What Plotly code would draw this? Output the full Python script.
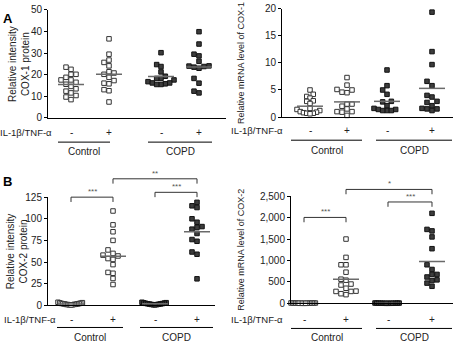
import plotly.graph_objects as go

W, H = 453, 347
FONT = "Liberation Sans, Arial, sans-serif"

GROUPS = ["Control", "COPD"]
TREAT = ["-", "+", "-", "+"]
STIM = "IL-1β/TNF-α"

# ---------- data ----------
# Panel A left: relative intensity COX-1 protein
A1_CTRL_MINUS = [23.5, 22.5, 20.2, 20.2, 18.8, 17.6, 17.6, 16.5, 15.6, 14.6, 13.5, 12.4, 11.6, 10.4, 9.7, 8.5]
A1_CTRL_PLUS = [36.6, 29.5, 26.8, 25.7, 24.1, 21.4, 20.8, 20.2, 18.8, 17.3, 16.1, 15.8, 13.1, 12.6, 7.4]
A1_COPD_MINUS = [30.2, 24.7, 23.8, 21.3, 19.3, 18.3, 18.3, 17.6, 16.8, 16.2, 16.2, 15.8, 15.5, 15.5]
A1_COPD_PLUS = [39.9, 34.2, 29.5, 28.7, 26.2, 24.1, 24.0, 23.8, 23.5, 23.0, 18.3, 16.1, 12.4, 11.6]
A1_CENTER = [15.5, 20.2, 19.2, 23.6]

# Panel A right: relative mRNA level of COX-1
A2_CTRL_MINUS = [5.0, 4.2, 3.8, 3.5, 3.0, 2.9, 2.5, 1.6, 1.4, 1.2, 1.0, 0.9, 0.8, 0.7, 0.7, 0.6]
A2_CTRL_PLUS = [7.3, 5.9, 5.1, 5.0, 4.6, 4.5, 2.4, 2.4, 2.0, 1.5, 1.0, 1.0, 0.9, 0.3]
A2_COPD_MINUS = [8.7, 5.8, 5.0, 4.2, 2.9, 2.8, 2.1, 1.6, 1.4, 1.4, 1.2, 1.2, 1.2]
A2_COPD_PLUS = [19.4, 12.1, 9.7, 6.6, 5.8, 4.0, 3.7, 2.9, 2.7, 2.1, 1.6, 1.5, 1.5, 1.2]
A2_CENTER = [2.0, 2.8, 2.9, 5.3]

# Panel B left: relative intensity COX-2 protein
B1_CTRL_MINUS = [3.5, 3.0, 2.8, 2.5, 2.2, 2.0, 1.8, 1.5, 1.5, 1.2, 1.0, 1.0, 0.8, 0.6, 0.5, 0.4]
B1_CTRL_PLUS = [109, 93, 85, 75, 64, 60, 58, 57, 54, 53, 47, 38, 37, 31, 24]
B1_COPD_MINUS = [3.5, 3.0, 2.8, 2.5, 2.2, 2.0, 1.8, 1.6, 1.4, 1.2, 1.0, 0.8, 0.6, 0.5]
B1_COPD_PLUS = [119, 115, 113, 100, 96, 91, 90, 88, 83, 76, 74, 61.6, 59, 30.6]
B1_CENTER = [1.5, 56.7, 1.8, 85]
B1_SIG = [("***", 0, 1), ("**", 1, 3), ("***", 2, 3)]

# Panel B right: relative mRNA level of COX-2
B2_CTRL_MINUS = [9, 8, 7, 6, 5, 5, 4, 4, 3, 3, 2, 2, 2, 1, 1, 1]
B2_CTRL_PLUS = [1500, 1072, 900, 900, 727, 563, 540, 450, 428, 352, 285, 278, 278, 225, 203]
B2_COPD_MINUS = [8, 7, 6, 5, 5, 4, 4, 3, 3, 2, 2, 2, 1, 1]
B2_COPD_PLUS = [2100, 1725, 1690, 1550, 1275, 900, 790, 675, 675, 615, 548, 532, 472, 398]
B2_CENTER = [3, 563, 3, 975]
B2_SIG = [("***", 0, 1), ("*", 1, 3), ("***", 2, 3)]

# ---------- layout (pixel geometry) ----------
PANELS = [
    dict(letter="A", letter_y=3, title="Relative intensity<br>COX-1 protein", title_x=19, title_size=10,
         series=[A1_CTRL_MINUS, A1_CTRL_PLUS, A1_COPD_MINUS, A1_COPD_PLUS], center=A1_CENTER,
         x0=48, x1=226, ytop=4, ybot=116, ymax=50, dtick=10, fmt="",
         pos=[71, 109, 161, 199], tick_y=131, stim_right=54, line_y=141,
         groups_x=[(58, 110), (148, 212)], group_label_y=151, sig=[], sig_y=[]),
    dict(letter=None, title="Relative mRNA level of COX-1", title_x=241, title_size=9,
         series=[A2_CTRL_MINUS, A2_CTRL_PLUS, A2_COPD_MINUS, A2_COPD_PLUS], center=A2_CENTER,
         x0=282, x1=453, ytop=3, ybot=115, ymax=20, dtick=5, fmt="",
         pos=[310, 347, 387, 432], tick_y=129, stim_right=285, line_y=139,
         groups_x=[(291, 362), (376, 452)], group_label_y=150, sig=[], sig_y=[]),
    dict(letter="B", letter_y=172, title="Relative intensity<br>COX-2 protein", title_x=17, title_size=10,
         series=[B1_CTRL_MINUS, B1_CTRL_PLUS, B1_COPD_MINUS, B1_COPD_PLUS], center=B1_CENTER,
         x0=48, x1=215, ytop=198, ybot=310, ymax=125, dtick=25, fmt="",
         pos=[71, 113, 155, 197], tick_y=325, stim_right=58, line_y=333,
         groups_x=[(57, 123), (140, 213)], group_label_y=343, sig=B1_SIG, sig_y=[198, 179, 193]),
    dict(letter=None, title="Relative mRNA level of COX-2", title_x=241, title_size=9,
         series=[B2_CTRL_MINUS, B2_CTRL_PLUS, B2_COPD_MINUS, B2_COPD_PLUS], center=B2_CENTER,
         x0=291, x1=453, ytop=197, ybot=308, ymax=2500, dtick=500, fmt=",d",
         pos=[304, 346, 388, 432], tick_y=325, stim_right=285, line_y=334,
         groups_x=[(291, 362), (376, 452)], group_label_y=343, sig=B2_SIG, sig_y=[219, 190, 203]),
]

MARKER_PX = 5
HALF_MAX = 13
LINE_HALF = 13


def px(x):
    return x / W


def py(y):
    return 1 - y / H


def beeswarm(values, scale):
    """Column beeswarm in pixel units; returns x offsets (px) per value."""
    order = sorted(range(len(values)), key=lambda i: values[i])
    placed = []
    offs = [0.0] * len(values)
    for i in order:
        ypix = values[i] * scale
        k = 0
        while True:
            cands = [0] if k == 0 else [-k * MARKER_PX, k * MARKER_PX]
            ok = None
            for c in cands:
                if all(not (abs(c - pc) < MARKER_PX and abs(ypix - pyy) < MARKER_PX) for pc, pyy in placed):
                    ok = c
                    break
            if ok is not None:
                offs[i] = ok
                placed.append((ok, ypix))
                break
            k += 1
    m = max(abs(o) for o in offs) if offs else 0
    if m > HALF_MAX:
        offs = [o * HALF_MAX / m for o in offs]
    return offs


fig = go.Figure()
annotations = []
shapes = []
layout_axes = {}

for pi, P in enumerate(PANELS):
    n = "" if pi == 0 else str(pi + 1)
    xa, ya = "x" + n, "y" + n
    scale = (P["ybot"] - P["ytop"]) / P["ymax"]
    for gi, vals in enumerate(P["series"]):
        copd = gi >= 2
        offs = beeswarm(vals, scale)
        fig.add_trace(go.Scatter(
            x=[P["pos"][gi] + o for o in offs], y=vals, mode="markers",
            xaxis=xa, yaxis=ya, cliponaxis=False, showlegend=False,
            marker=dict(symbol="square", size=4.5,
                        color="#3c3c3c" if copd else "white",
                        line=dict(color="#111111" if copd else "#333333", width=1))))
        c = P["center"][gi]
        fig.add_trace(go.Scatter(
            x=[P["pos"][gi] - LINE_HALF, P["pos"][gi] + LINE_HALF], y=[c, c], mode="lines",
            xaxis=xa, yaxis=ya, cliponaxis=False, showlegend=False,
            line=dict(color="#6a6a6a", width=1.5)))

    layout_axes["xaxis" + n] = dict(
        domain=[px(P["x0"]), px(P["x1"])], range=[P["x0"], P["x1"]], anchor=ya,
        showline=True, linecolor="#000", linewidth=1, showgrid=False, zeroline=False,
        showticklabels=False, ticks="", fixedrange=True)
    layout_axes["yaxis" + n] = dict(
        domain=[py(P["ybot"]), py(P["ytop"])], range=[0, P["ymax"]], anchor=xa,
        dtick=P["dtick"], tick0=0, tickformat=P["fmt"],
        showline=True, linecolor="#000", linewidth=1, showgrid=False, zeroline=False,
        ticks="outside", ticklen=3, tickcolor="#000", tickwidth=1,
        tickfont=dict(family=FONT, size=10, color="#222"), fixedrange=True)

    # panel letter
    if P["letter"]:
        annotations.append(dict(text="<b>%s</b>" % P["letter"], x=px(1), y=py(P["letter_y"]),
                                xref="paper", yref="paper", xanchor="left", yanchor="top",
                                showarrow=False, font=dict(family=FONT, size=13, color="#000")))
    # y title
    annotations.append(dict(text=P["title"], x=px(P["title_x"]), y=py((P["ytop"] + P["ybot"]) / 2),
                            xref="paper", yref="paper", xanchor="center", yanchor="middle",
                            textangle=-90, showarrow=False,
                            font=dict(family=FONT, size=P["title_size"], color="#222")))
    # treatment row
    annotations.append(dict(text=STIM, x=px(P["stim_right"]), y=py(P["tick_y"]),
                            xref="paper", yref="paper", xanchor="right", yanchor="middle",
                            showarrow=False, font=dict(family=FONT, size=9.5, color="#222")))
    for gi, t in enumerate(TREAT):
        annotations.append(dict(text=t, x=px(P["pos"][gi]), y=py(P["tick_y"]),
                                xref="paper", yref="paper", xanchor="center", yanchor="middle",
                                showarrow=False, font=dict(family=FONT, size=10, color="#222")))
    # group underline + labels
    for (gx0, gx1), g in zip(P["groups_x"], GROUPS):
        shapes.append(dict(type="line", xref="paper", yref="paper",
                           x0=px(gx0), x1=px(gx1), y0=py(P["line_y"]), y1=py(P["line_y"]),
                           line=dict(color="#000", width=1)))
        annotations.append(dict(text=g, x=px((gx0 + gx1) / 2), y=py(P["group_label_y"]),
                                xref="paper", yref="paper", xanchor="center", yanchor="middle",
                                showarrow=False, font=dict(family=FONT, size=10, color="#222")))
    # significance brackets
    for (lab, a, b), yb in zip(P["sig"], P["sig_y"]):
        xa0, xb0 = P["pos"][a], P["pos"][b]
        path = "M %f %f L %f %f L %f %f L %f %f" % (
            px(xa0), py(yb + 5), px(xa0), py(yb), px(xb0), py(yb), px(xb0), py(yb + 5))
        shapes.append(dict(type="path", xref="paper", yref="paper", path=path,
                           line=dict(color="#333", width=1)))
        annotations.append(dict(text=lab, x=px((xa0 + xb0) / 2), y=py(yb - 6),
                                xref="paper", yref="paper", xanchor="center", yanchor="middle",
                                showarrow=False, font=dict(family=FONT, size=8, color="#555")))

fig.update_layout(
    width=W, height=H, margin=dict(l=0, r=0, t=0, b=0),
    paper_bgcolor="white", plot_bgcolor="white",
    font=dict(family=FONT, size=10, color="#222"),
    annotations=annotations, shapes=shapes, showlegend=False,
    **layout_axes)

fig.write_html("out.html", config={"displayModeBar": False})
